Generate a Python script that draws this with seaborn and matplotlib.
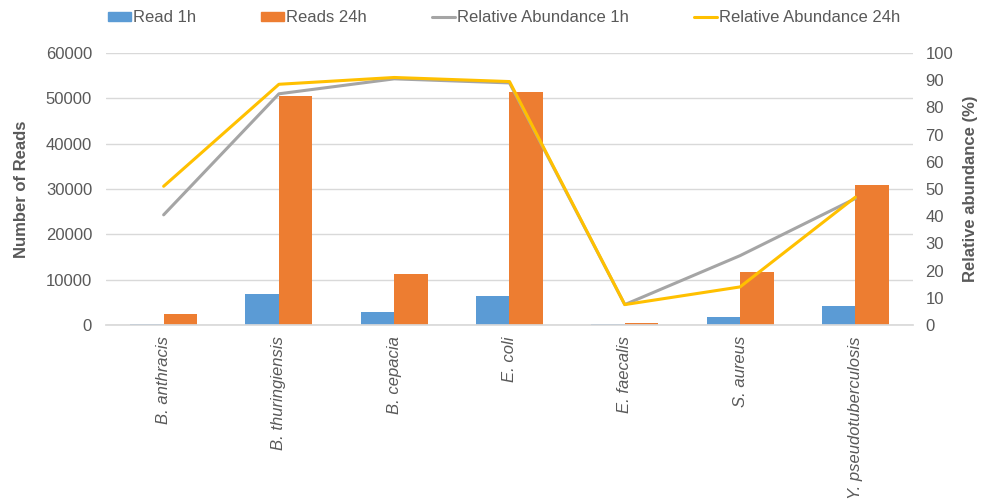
import numpy as np
import pandas as pd
import seaborn as sns
import matplotlib.pyplot as plt
from matplotlib.patches import Patch
from matplotlib.lines import Line2D

sns.set_theme(style="white")
plt.rcParams['font.family'] = ['Liberation Sans', 'DejaVu Sans']
plt.rcParams['font.size'] = 12

# --- données ---
organisms = ["B. anthracis", "B. thuringiensis", "B. cepacia", "E. coli",
             "E. faecalis", "S. aureus", "Y. pseudotuberculosis"]
reads_1h = [300, 6800, 2800, 6500, 150, 1700, 4300]
reads_24h = [2400, 50500, 11200, 51300, 350, 11800, 30900]
rel_ab_1h = [40.5, 85.0, 90.5, 89.0, 7.5, 25.5, 46.5]
rel_ab_24h = [51.0, 88.5, 91.0, 89.5, 7.5, 14.0, 47.0]

c_1h = "#5B9BD5"
c_24h = "#ED7D31"
c_l1 = "#A5A5A5"
c_l24 = "#FFC000"
txt = "#595959"

df = pd.DataFrame({
    "organism": organisms * 2,
    "reads": reads_1h + reads_24h,
    "serie": ["Read 1h"] * len(organisms) + ["Reads 24h"] * len(organisms),
})

fig = plt.figure(figsize=(9.87, 5.01), dpi=100)
# zone du graphique : x 106 -> 913 px, y 53 -> 325 px
ax = fig.add_axes([106 / 987, 1 - 325 / 501, 807 / 987, 272 / 501])

sns.barplot(data=df, x="organism", y="reads", hue="serie",
            palette=[c_1h, c_24h], width=0.58, saturation=1, linewidth=0,
            ax=ax, legend=False)
ax.set_ylim(0, 60000)
ax.set_yticks(np.arange(0, 60001, 10000))
ax.set_xlim(-0.5, len(organisms) - 0.5)
ax.grid(axis="y", color="#D9D9D9", lw=1)
ax.set_axisbelow(True)
for s in ["top", "left", "right"]:
    ax.spines[s].set_visible(False)
ax.spines["bottom"].set_color("#D9D9D9")
ax.set_xlabel("")
ax.set_ylabel("Number of Reads", fontweight="bold", color=txt, fontsize=12, labelpad=12)
ax.tick_params(axis="y", colors=txt, labelsize=12, length=0, pad=10)
ax.tick_params(axis="x", colors=txt, labelsize=12, length=0, pad=8)
ax.set_xticks(range(len(organisms)))
ax.set_xticklabels(organisms, rotation=90, style="italic")

ax2 = ax.twinx()
x = np.arange(len(organisms))
sns.lineplot(x=x, y=rel_ab_1h, ax=ax2, color=c_l1, lw=2.2)
sns.lineplot(x=x, y=rel_ab_24h, ax=ax2, color=c_l24, lw=2.2)
ax2.set_ylim(0, 100)
ax2.set_yticks(np.arange(0, 101, 10))
for s in ["top", "left", "right", "bottom"]:
    ax2.spines[s].set_visible(False)
ax2.tick_params(axis="y", colors=txt, labelsize=12, length=0, pad=9)
ax2.set_ylabel("Relative abundance (%)", fontweight="bold", color=txt, fontsize=12, labelpad=7)
ax2.grid(False)

handles = [Patch(color=c_1h), Patch(color=c_24h),
           Line2D([], [], color=c_l1, lw=2.2), Line2D([], [], color=c_l24, lw=2.2)]
labels = ["Read 1h", "Reads 24h", "Relative Abundance 1h", "Relative Abundance 24h"]
leg = fig.legend(handles, labels, loc="center left", bbox_to_anchor=(108 / 987, 1 - 18 / 501),
                 ncol=4, frameon=False, fontsize=12, handlelength=1.4, handleheight=0.45,
                 handletextpad=0.1, columnspacing=3.9, borderpad=0, borderaxespad=0)
for t in leg.get_texts():
    t.set_color(txt)

fig.savefig("out.png", dpi=100)
